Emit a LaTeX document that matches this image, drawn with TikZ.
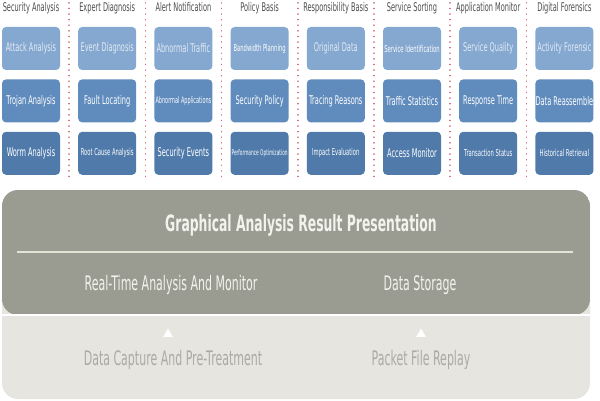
\documentclass[tikz,border=0pt]{standalone}
\usepackage{fontspec}
\setmainfont[FakeStretch=0.55]{DejaVu Sans}
\usepackage{tikz}
\usetikzlibrary{shapes.geometric, calc, positioning}
\definecolor{headgrey}{HTML}{4D4D4D}
\definecolor{rowone}{HTML}{85A8D0}
\definecolor{rowtwo}{HTML}{608BBD}
\definecolor{rowthree}{HTML}{507AAA}
\definecolor{rowonetext}{HTML}{E2EAF4}
\definecolor{sepred}{HTML}{CC6677}
\definecolor{upband}{HTML}{9B9C91}
\definecolor{lowband}{HTML}{E6E5E0}
\definecolor{lowtext}{HTML}{ABABA5}
\definecolor{uptext}{HTML}{F3F3EE}
\definecolor{dividerline}{HTML}{E4E4D6}
\tikzstyle{head} = [inner sep=0pt, text height=9pt, text depth=3pt, text=headgrey, font=\fontsize{12}{12}\selectfont]
\tikzstyle{block} = [rectangle, rounded corners=4pt, minimum width=58pt, minimum height=43pt, inner sep=0pt, text=white, font=\fontsize{12}{12}\selectfont]
\tikzstyle{rowa} = [block, fill=rowone, text=rowonetext]
\tikzstyle{rowb} = [block, fill=rowtwo]
\tikzstyle{rowc} = [block, fill=rowthree]
\tikzstyle{smalltext} = [font=\fontsize{9.5}{9.5}\selectfont]
\tikzstyle{tinytext} = [font=\fontsize{7.8}{7.8}\selectfont]
\tikzstyle{colsep} = [draw=sepred, line width=1.6pt, line cap=round, dash pattern=on 0.1pt off 5.5pt]
\tikzstyle{panel} = [rectangle, rounded corners=16pt, minimum width=588pt, minimum height=209pt, inner sep=0pt, fill=lowband,
	path picture={
		\fill[upband] ([yshift=84pt]path picture bounding box.south west) rectangle (path picture bounding box.north east);
		\draw[white, line width=1.5pt] ([yshift=84pt]path picture bounding box.south west) -- ([yshift=84pt]path picture bounding box.south east);
	}]
\tikzstyle{paneltitle} = [text=uptext, font=\fontsize{22.5}{22.5}\selectfont\bfseries]
\tikzstyle{bandtext} = [text=uptext, font=\fontsize{20}{20}\selectfont]
\tikzstyle{lowlabel} = [text=lowtext, font=\fontsize{20}{20}\selectfont]
\tikzstyle{divider} = [draw=dividerline, line width=1.8pt]
\tikzstyle{pointer} = [regular polygon, regular polygon sides=3, fill=white, minimum size=11pt, inner sep=0pt]

\begin{document}
\begin{tikzpicture}[x=1pt, y=1pt, node distance = 9pt and 17.8pt]
	\useasboundingbox (0,0) rectangle (600,400);
	\node (AttackAnalysis) [rowa] at (31,351.5) {Attack Analysis};
	\node (TrojanAnalysis) [rowb, below = of AttackAnalysis] {Trojan Analysis};
	\node (WormAnalysis) [rowc, below = of TrojanAnalysis] {Worm Analysis};
	\node (EventDiagnosis) [rowa, right = of AttackAnalysis] {Event Diagnosis};
	\node (FaultLocating) [rowb, below = of EventDiagnosis] {Fault Locating};
	\node (RootCause) [rowc, smalltext, below = of FaultLocating] {Root Cause Analysis};
	\node (AbnormalTraffic) [rowa, right = of EventDiagnosis] {Abnormal Traffic};
	\node (AbnormalApps) [rowb, font=\fontsize{9}{9}\selectfont, below = of AbnormalTraffic] {Abnormal Applications};
	\node (SecurityEvents) [rowc, below = of AbnormalApps] {Security Events};
	\node (Bandwidth) [rowa, smalltext, text=white, right = of AbnormalTraffic] {Bandwidth Planning};
	\node (SecurityPolicy) [rowb, below = of Bandwidth] {Security Policy};
	\node (Performance) [rowc, tinytext, below = of SecurityPolicy] {Performance Optimization};
	\node (OriginalData) [rowa, right = of Bandwidth] {Original Data};
	\node (TracingReasons) [rowb, below = of OriginalData] {Tracing Reasons};
	\node (ImpactEval) [rowc, smalltext, below = of TracingReasons] {Impact Evaluation};
	\node (ServiceIdent) [rowa, smalltext, text=white, right = of OriginalData] {Service Identification};
	\node (TrafficStats) [rowb, below = of ServiceIdent] {Traffic Statistics};
	\node (AccessMonitor) [rowc, below = of TrafficStats] {Access Monitor};
	\node (ServiceQuality) [rowa, right = of ServiceIdent] {Service Quality};
	\node (ResponseTime) [rowb, below = of ServiceQuality] {Response Time};
	\node (TransStatus) [rowc, smalltext, below = of ResponseTime] {Transaction Status};
	\node (ActivityForensic) [rowa, right = of ServiceQuality] {Activity Forensic};
	\node (DataReassemble) [rowb, below = of ActivityForensic] {Data Reassemble};
	\node (HistRetrieval) [rowc, smalltext, below = of DataReassemble] {Historical Retrieval};
	\node (SecurityHead) [head, above = 12pt of AttackAnalysis] {Security Analysis};
	\node (ExpertHead) [head, above = 12pt of EventDiagnosis] {Expert Diagnosis};
	\node (AlertHead) [head, above = 12pt of AbnormalTraffic] {Alert Notification};
	\node (PolicyHead) [head, above = 12pt of Bandwidth] {Policy Basis};
	\node (ResponsibilityHead) [head, above = 12pt of OriginalData] {Responsibility Basis};
	\node (SortingHead) [head, above = 12pt of ServiceIdent] {Service Sorting};
	\node (MonitorHead) [head, above = 12pt of ServiceQuality] {Application Monitor};
	\node (ForensicsHead) [head, above = 12pt of ActivityForensic] {Digital Forensics};
	\draw [colsep] ($(AttackAnalysis.north east)!0.5!(EventDiagnosis.north west) + (0,24pt)$) -- ($(WormAnalysis.south east)!0.5!(RootCause.south west) - (0,2pt)$);
	\draw [colsep] ($(EventDiagnosis.north east)!0.5!(AbnormalTraffic.north west) + (0,24pt)$) -- ($(RootCause.south east)!0.5!(SecurityEvents.south west) - (0,2pt)$);
	\draw [colsep] ($(AbnormalTraffic.north east)!0.5!(Bandwidth.north west) + (0,24pt)$) -- ($(SecurityEvents.south east)!0.5!(Performance.south west) - (0,2pt)$);
	\draw [colsep] ($(Bandwidth.north east)!0.5!(OriginalData.north west) + (0,24pt)$) -- ($(Performance.south east)!0.5!(ImpactEval.south west) - (0,2pt)$);
	\draw [colsep] ($(OriginalData.north east)!0.5!(ServiceIdent.north west) + (0,24pt)$) -- ($(ImpactEval.south east)!0.5!(AccessMonitor.south west) - (0,2pt)$);
	\draw [colsep] ($(ServiceIdent.north east)!0.5!(ServiceQuality.north west) + (0,24pt)$) -- ($(AccessMonitor.south east)!0.5!(TransStatus.south west) - (0,2pt)$);
	\draw [colsep] ($(ServiceQuality.north east)!0.5!(ActivityForensic.north west) + (0,24pt)$) -- ($(TransStatus.south east)!0.5!(HistRetrieval.south west) - (0,2pt)$);
	\node (Panel) [panel] at (296,105.5) {};
	\node (ResultPresentation) [paneltitle] at (301,175) {Graphical Analysis Result Presentation};
	\coordinate (DividerLeft) at (17,148);
	\coordinate (DividerRight) at (573,148);
	\draw [divider] (DividerLeft) -- (DividerRight);
	\node (RealTime) [bandtext] at (171,115) {Real-Time Analysis And Monitor};
	\node (DataStorage) [bandtext] at (420,115) {Data Storage};
	\node (CapturePointer) [pointer] at (168,66) {};
	\node (ReplayPointer) [pointer] at (421,66) {};
	\node (DataCapture) [lowlabel] at (173,40) {Data Capture And Pre-Treatment};
	\node (PacketReplay) [lowlabel] at (421,40) {Packet File Replay};
\end{tikzpicture}
\end{document}
